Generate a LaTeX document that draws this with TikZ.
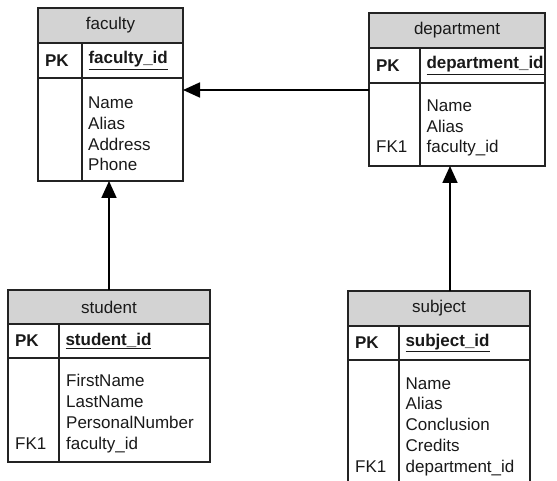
\documentclass[tikz,border=0pt]{standalone}
\usepackage{fontspec}
\setmainfont{Liberation Sans}
\usetikzlibrary{positioning,arrows.meta}
\definecolor{tableHead}{RGB}{211,211,211}
\definecolor{tableLine}{RGB}{35,35,35}
\definecolor{tableText}{RGB}{25,25,25}
\newcommand{\tablefont}{\fontsize{17}{20.7}\selectfont}
\tikzset{
  tablehead/.style={draw=tableLine, fill=tableHead, line width=1.2pt, inner sep=0pt, outer sep=0pt, anchor=north west},
  tablecell/.style={draw=tableLine, line width=1.2pt, inner sep=0pt, outer sep=0pt, anchor=north west, align=left},
  keyfield/.style={tablecell, font=\tablefont\bfseries},
  fieldlist/.style={anchor=base west, inner sep=0pt, align=left}, % base = last line
  reference/.style={draw=black, line width=1.8pt, -{Triangle[length=17pt,width=15pt]}}
}

\begin{document}
\begin{tikzpicture}[x=1pt, y=-1pt, font=\tablefont, text=tableText]
  \useasboundingbox (0,0) rectangle (557,481);

  % faculty
  \node[tablehead, minimum width=145pt, minimum height=35pt] (faculty) at (38,8) {faculty};
  \node[keyfield, minimum width=44pt, minimum height=35pt, text width=30pt] (faculty-pk) at (faculty.south west) {PK};
  \node[keyfield, minimum width=101pt, minimum height=35pt, text width=88pt] (faculty-id) at (faculty-pk.north east) {\underline{faculty\_id}};
  \node[tablecell, minimum width=44pt, minimum height=103pt] (faculty-fk) at (faculty-pk.south west) {};
  \node[tablecell, minimum width=101pt, minimum height=103pt] (faculty-fields) at (faculty-fk.north east) {};
  \node[fieldlist] (faculty-list) at (88,171) {Name\\Alias\\Address\\Phone};

  % department
  \node[tablehead, minimum width=176pt, minimum height=35pt] (department) at (369,13) {department};
  \node[keyfield, minimum width=51pt, minimum height=35pt, text width=37pt] (department-pk) at (department.south west) {PK};
  \node[keyfield, minimum width=125pt, minimum height=35pt, text width=112pt] (department-id) at (department-pk.north east) {\underline{department\_id}};
  \node[tablecell, minimum width=51pt, minimum height=83pt] (department-fk) at (department-pk.south west) {};
  \node[tablecell, minimum width=125pt, minimum height=83pt] (department-fields) at (department-fk.north east) {};
  \node[fieldlist] (department-list) at (426.5,153) {Name\\Alias\\faculty\_id};
  \node[fieldlist] (department-key) at (376,153) {FK1};

  % student
  \node[tablehead, minimum width=202pt, minimum height=34pt] (student) at (8,290) {student};
  \node[keyfield, minimum width=51pt, minimum height=34pt, text width=37pt] (student-pk) at (student.south west) {PK};
  \node[keyfield, minimum width=151pt, minimum height=34pt, text width=138pt] (student-id) at (student-pk.north east) {\underline{student\_id}};
  \node[tablecell, minimum width=51pt, minimum height=104pt] (student-fk) at (student-pk.south west) {};
  \node[tablecell, minimum width=151pt, minimum height=104pt] (student-fields) at (student-fk.north east) {};
  \node[fieldlist] (student-list) at (66,449) {FirstName\\LastName\\PersonalNumber\\faculty\_id};
  \node[fieldlist] (student-key) at (15,449) {FK1};

  % subject
  \node[tablehead, minimum width=182pt, minimum height=35pt] (subject) at (348,291) {subject};
  \node[keyfield, minimum width=51pt, minimum height=34pt, text width=37pt] (subject-pk) at (subject.south west) {PK};
  \node[keyfield, minimum width=131pt, minimum height=34pt, text width=118pt] (subject-id) at (subject-pk.north east) {\underline{subject\_id}};
  \node[tablecell, minimum width=51pt, minimum height=130pt] (subject-fk) at (subject-pk.south west) {};
  \node[tablecell, minimum width=131pt, minimum height=130pt] (subject-fields) at (subject-fk.north east) {};
  \node[fieldlist] (subject-list) at (405.5,472) {Name\\Alias\\Conclusion\\Credits\\department\_id};
  \node[fieldlist] (subject-key) at (355,472) {FK1};

  % references
  \coordinate (department-out) at ([yshift=-7pt]department-fk.north west);
  \coordinate (subject-out) at ([xshift=11pt]subject.north);
  \draw[reference] (department-out) -- (faculty-fields.east |- department-out);
  \draw[reference] (student.north) -- (student.north |- faculty-fields.south);
  \draw[reference] (subject-out) -- (subject-out |- department-fields.south);
\end{tikzpicture}
\end{document}
